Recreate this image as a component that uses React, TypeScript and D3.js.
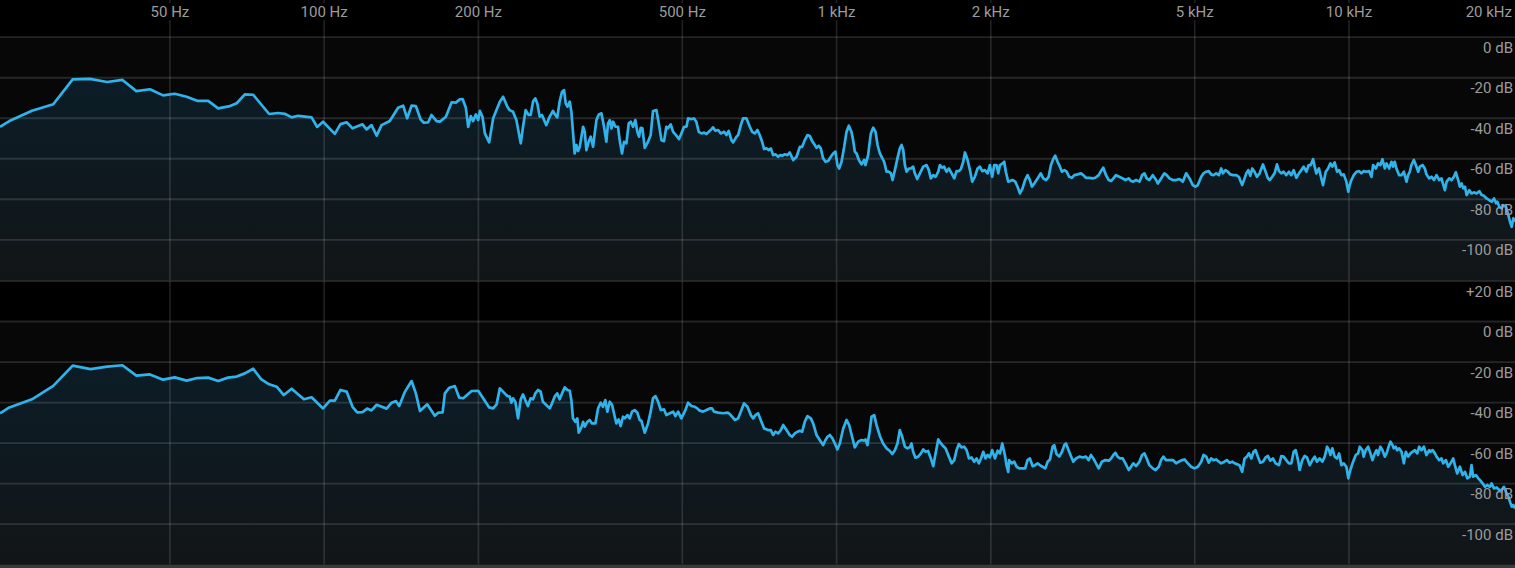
import React from 'react';
import * as d3 from 'd3';

// ---------- axis definitions ----------
const freqGridHz = [50, 100, 200, 500, 1000, 2000, 5000, 10000];
const freqGridLabels = ['50 Hz', '100 Hz', '200 Hz', '500 Hz', '1 kHz', '2 kHz', '5 kHz', '10 kHz'];
const edgeFreqLabel = '20 kHz';
const freqDomainHz = [23.3, 21087];
const dbDomain = [20, -120];
const dbGridLines = [0, -20, -40, -60, -80, -100];
const topPanelDbLabels = ['0 dB', '-20 dB', '-40 dB', '-60 dB', '-80 dB', '-100 dB'];
const bottomPanelDbLabels = ['+20 dB', '0 dB', '-20 dB', '-40 dB', '-60 dB', '-80 dB', '-100 dB'];
const bottomPanelDbTicks = [20, 0, -20, -40, -60, -80, -100];

// ---------- spectrum data: [frequency Hz, level dB] ----------
const topLow: [number, number][] = [
  [23.3,-44.2],[24.3,-41.4],[26.9,-36.3],[29.6,-33.1],[32.3,-20.8],[34.9,-20.6],[37.7,-22.1],[40.4,-21.1],
  [43.0,-26.6],[45.7,-25.7],[48.5,-28.7],[51.1,-27.9],[53.9,-29.4],[56.5,-31.4],[59.4,-31.4],[62.1,-35.1],
  [65.5,-34.0],[67.5,-32.6],[70.0,-28.2],[72.7,-28.4],[78.1,-37.9],[81.3,-37.4],[83.8,-37.8],[86.4,-39.6],
  [89.0,-38.8],[94.5,-39.6],[96.9,-44.3],[99.5,-41.7],[104.9,-47.7],[107.6,-42.9],[110.6,-42.0],[113.6,-45.0],
  [118.8,-43.0],[121.0,-45.5],[123.7,-43.4],[126.6,-48.6],[129.4,-43.4],[134.3,-41.4],[139.4,-34.8],[142.6,-33.8],
  [145.2,-40.0],[148.1,-33.8],[151.0,-34.0],[154.2,-40.5],[156.5,-42.2],[159.6,-42.0],[162.0,-38.4],[165.7,-41.4],
  [168.2,-41.7],[172.8,-39.3],[177.3,-32.1],[180.7,-32.3],[184.0,-30.7],[186.3,-30.5],[189.0,-34.8],[191.0,-44.3],
  [193.3,-38.9],[195.3,-41.4],[197.7,-38.1],[199.8,-40.9],[201.3,-36.4],[203.7,-39.3],[205.9,-47.5],[209.9,-51.9],
  [213.7,-40.0],[220.2,-31.9],[223.5,-29.4],
];
const topMid: [number, number][] = [
  [227.8,-34.3],[230.2,-36.0],[233.6,-36.8],[237.2,-40.9],[241.9,-52.4],[244.4,-44.2],[247.3,-36.0],[250.6,-38.4],
  [252.9,-38.4],[255.6,-31.8],[258.3,-30.2],[260.6,-32.7],[263.4,-39.2],[266.1,-38.4],[271.3,-43.4],[275.5,-39.2],
  [279.6,-36.4],[282.5,-38.4],[285.0,-39.6],[288.1,-31.8],[291.2,-26.9],[293.9,-26.1],[296.1,-32.7],[298.4,-34.3],
  [301.5,-31.8],[303.7,-36.8],[305.9,-46.7],[308.2,-57.4],[310.6,-53.2],[313.0,-56.2],[315.4,-54.1],[320.1,-44.2],
  [322.5,-46.7],[324.9,-55.7],[328.3,-51.6],[331.2,-49.1],[334.8,-54.1],[337.3,-47.5],[339.9,-40.9],[343.5,-38.1],
  [347.6,-37.6],[351.7,-44.2],[355.4,-51.6],[358.1,-42.5],[360.9,-40.9],[363.6,-45.0],[366.3,-41.7],[370.2,-44.2],
  [374.5,-44.2],[377.3,-50.8],[381.3,-57.4],[384.8,-51.6],[388.9,-52.4],[393.0,-42.5],[396.6,-41.7],[400.7,-44.2],
  [404.8,-40.9],[408.5,-46.7],[411.6,-49.1],[414.8,-44.7],[417.9,-45.0],[422.3,-54.6],[428.6,-51.6],[433.7,-48.3],
  [438.3,-36.4],[445.1,-36.0],[449.8,-42.5],[455.2,-50.8],[460.6,-51.3],[465.3,-44.2],[468.9,-45.0],[474.6,-43.0],
  [479.7,-46.7],[486.9,-48.6],[492.7,-50.3],[497.8,-47.5],[503.9,-44.2],[509.3,-44.2],[513.1,-40.1],[520.9,-40.4],
  [527.1,-40.1],[532.5,-41.7],[538.2,-46.7],[544.8,-47.5],[551.5,-47.1],[557.3,-47.8],[563.1,-46.7],[569.7,-45.5],
  [573.9,-44.5],[580.1,-46.2],[587.2,-45.8],[594.4,-47.5],[603.3,-46.7],[609.6,-48.3],[615.8,-46.3],[623.5,-50.8],
  [628.2,-51.9],[637.8,-49.1],[642.6,-48.3],[650.2,-43.4],[656.9,-40.1],[667.0,-40.1],[677.2,-44.2],[684.4,-46.7],
  [692.6,-47.5],[700.7,-45.8],[707.9,-48.3],[715.6,-51.6],[722.2,-55.2],[729.9,-54.9],[737.6,-55.7],[744.2,-54.9],
  [751.9,-58.2],[759.7,-57.8],[769.1,-59.0],[776.1,-58.2],[783.2,-58.5],[792.6,-57.8],[802.0,-58.2],[810.3,-56.9],
  [822.7,-60.6],[835.3,-59.0],[847.9,-54.1],[856.7,-54.1],[866.8,-50.8],[877.3,-48.3],[886.8,-48.8],[896.2,-51.3],
  [907.0,-53.2],[913.8,-54.6],[923.2,-53.6],[931.3,-54.9],[941.3,-59.8],[951.5,-61.5],[963.1,-61.1],[974.6,-59.0],
  [984.8,-57.4],[994.9,-56.5],[1003.9,-63.1],[1011.6,-64.8],[1022.5,-61.5],[1034.9,-54.1],[1045.8,-46.7],[1056.6,-43.7],
  [1069.1,-46.7],[1077.2,-50.8],[1085.5,-56.5],[1093.8,-57.4],[1105.4,-60.6],[1118.7,-62.8],[1132.0,-60.6],[1138.7,-63.1],
  [1152.3,-58.2],[1166.5,-47.5],[1179.0,-44.7],[1191.5,-46.7],[1202.2,-53.2],[1214.7,-57.4],[1227.1,-59.5],[1238.3,-61.5],
  [1251.7,-66.4],[1265.1,-66.4],[1276.5,-67.2],[1286.1,-70.5],[1299.5,-65.6],[1314.7,-59.8],[1328.7,-54.9],[1339.0,-53.2],
  [1349.2,-55.7],[1359.4,-63.1],[1369.7,-66.4],[1384.0,-64.8],[1396.3,-64.8],[1410.6,-63.9],[1421.3,-67.2],[1436.7,-70.0],
  [1454.3,-67.2],[1476.2,-63.9],[1498.2,-63.1],[1513.5,-65.6],[1527.5,-69.7],[1543.9,-68.1],[1560.4,-68.9],[1579.2,-66.4],
  [1591.0,-63.1],[1607.4,-64.4],[1621.5,-63.9],[1639.0,-66.4],[1656.6,-64.8],[1676.8,-67.2],[1697.0,-69.7],[1714.6,-66.1],
  [1732.3,-66.1],[1747.9,-65.1],[1766.8,-61.5],[1780.3,-56.9],[1801.9,-60.6],[1820.9,-65.6],[1839.8,-71.3],[1861.4,-68.9],
  [1884.2,-64.8],[1904.4,-63.9],[1924.7,-66.1],[1947.9,-65.6],[1971.0,-67.2],[1991.3,-63.1],[2012.4,-68.9],[2031.0,-63.1],
  [2052.7,-63.1],[2068.2,-67.2],[2083.8,-63.1],[2108.6,-62.3],[2124.1,-61.5],[2139.6,-66.4],[2162.6,-71.3],
];
const topHigh: [number, number][] = [
  [2204.8,-70.5],[2231.8,-71.3],[2255.5,-73.8],[2279.2,-77.1],[2306.2,-74.6],[2333.3,-70.5],[2358.7,-68.1],[2384.0,-70.5],
  [2405.8,-73.8],[2431.1,-72.2],[2467.4,-69.7],[2503.9,-67.2],[2531.1,-69.7],[2562.2,-70.5],[2593.3,-68.9],[2620.5,-63.1],
  [2651.6,-59.8],[2671.0,-58.5],[2699.5,-61.5],[2728.6,-63.9],[2753.6,-66.4],[2782.7,-65.6],[2811.9,-66.4],[2845.2,-68.9],
  [2878.9,-69.4],[2910.1,-68.1],[2954.7,-67.7],[2999.3,-67.2],[3030.5,-68.1],[3066.1,-69.4],[3113.1,-69.4],[3161.0,-69.7],
  [3199.3,-69.4],[3247.1,-68.1],[3280.6,-66.1],[3315.2,-64.4],[3356.2,-68.1],[3397.2,-70.5],[3433.0,-71.0],[3468.9,-69.7],
  [3509.9,-68.1],[3563.0,-68.9],[3617.9,-69.7],[3661.9,-70.5],[3716.8,-69.7],[3755.3,-71.0],[3794.0,-71.3],[3841.1,-70.5],
  [3899.9,-71.3],[3947.0,-68.1],[3988.2,-67.2],[4029.4,-69.7],[4077.6,-70.5],[4140.7,-68.1],[4203.9,-70.5],[4235.4,-72.2],
  [4298.5,-69.7],[4362.3,-67.2],[4409.6,-68.1],[4463.7,-69.7],[4531.3,-70.5],[4598.9,-70.5],[4666.6,-70.0],[4739.1,-71.3],
  [4811.5,-67.2],[4884.0,-69.7],[4956.5,-73.0],[5015.5,-73.8],[5069.9,-73.0],[5147.6,-68.9],[5202.0,-67.2],[5264.1,-66.4],
  [5326.2,-66.1],[5382.2,-67.7],[5440.5,-68.1],[5507.1,-67.2],[5573.7,-68.1],[5632.0,-64.8],[5673.6,-67.2],[5740.2,-65.6],
  [5802.4,-66.4],[5864.8,-67.7],[5936.2,-68.1],[6025.4,-68.1],[6096.7,-68.9],[6188.1,-73.0],[6255.1,-69.7],[6302.9,-67.2],
  [6360.3,-65.6],[6417.7,-68.4],[6475.1,-64.8],[6542.0,-66.4],[6609.8,-68.9],[6691.8,-67.2],[6794.3,-62.8],[6876.3,-66.4],
  [6948.1,-69.7],[6999.3,-70.5],[7082.1,-68.9],[7159.0,-67.2],[7235.9,-62.8],[7301.8,-66.1],[7378.7,-67.2],[7455.6,-66.4],
  [7543.5,-68.1],[7635.1,-66.4],[7717.5,-68.1],[7799.9,-65.6],[7894.1,-69.4],[7988.3,-67.2],[8070.7,-65.6],[8155.3,-63.9],
  [8256.3,-66.4],[8344.6,-63.1],[8420.3,-63.1],[8508.6,-60.2],[8571.7,-63.9],[8634.8,-67.2],[8738.0,-64.8],[8832.7,-69.7],
  [8900.4,-73.0],[9008.6,-66.4],[9103.4,-64.8],[9198.1,-62.3],[9279.3,-63.9],[9377.0,-61.8],[9478.4,-66.4],[9565.3,-65.6],
  [9666.8,-68.1],[9768.2,-67.7],[9884.1,-71.3],[9971.0,-76.3],[10031,-73.0],[10109,-70.5],[10218,-68.1],[10342,-66.4],
  [10466,-66.1],[10575,-67.2],[10684,-66.1],[10815,-66.4],[10948,-66.1],[11064,-68.9],[11147,-63.1],[11281,-64.8],
  [11397,-62.3],[11516,-63.1],[11623,-60.2],[11747,-64.8],[11837,-62.3],[11979,-64.8],[12104,-61.5],[12193,-63.9],
  [12283,-61.5],[12376,-64.8],[12529,-68.1],[12663,-68.1],[12797,-66.4],[12950,-71.3],[13046,-68.1],[13141,-66.4],
  [13240,-63.1],[13384,-60.6],[13507,-63.1],[13650,-66.4],[13753,-63.9],[13917,-63.1],[14060,-64.8],[14164,-67.7],
  [14340,-69.7],[14494,-68.9],[14647,-70.5],[14823,-68.1],[14999,-70.5],[15153,-69.7],[15388,-75.5],[15506,-71.3],
  [15694,-69.7],[15859,-70.5],[16024,-68.9],[16165,-66.7],[16336,-70.5],[16462,-73.8],[16588,-72.2],[16714,-74.6],
  [16841,-73.8],[16967,-77.9],[17169,-75.5],[17345,-77.1],[17530,-76.6],[17747,-77.1],[17963,-76.0],[18152,-77.9],
  [18342,-78.3],[18558,-79.6],[18783,-80.4],[18986,-81.2],[19189,-79.6],[19362,-82.0],[19478,-81.2],[19652,-83.7],
  [19855,-84.5],[20000,-82.9],[20249,-83.7],[20466,-87.8],[20621,-91.1],[20777,-93.6],[20932,-89.4],[21087,-91.1],
];

const bottomLow: [number, number][] = [
  [23.3,-45.3],[24.3,-42.4],[26.9,-38.4],[29.6,-31.8],[32.3,-21.8],[35.0,-23.5],[37.7,-22.3],[40.4,-21.6],
  [43.0,-26.7],[45.7,-26.1],[48.5,-28.7],[51.1,-27.6],[53.9,-29.2],[56.5,-27.9],[59.4,-27.7],[62.1,-29.4],
  [64.9,-27.7],[67.5,-27.2],[70.0,-25.6],[72.7,-23.3],[75.4,-28.6],[78.1,-31.0],[80.8,-32.2],[83.4,-36.3],
  [86.4,-33.2],[91.3,-38.4],[94.5,-37.4],[99.5,-42.9],[102.6,-39.1],[104.9,-39.1],[107.6,-33.8],[110.6,-34.6],
  [113.6,-42.1],[116.0,-44.9],[118.8,-44.7],[121.3,-43.0],[123.7,-43.9],[126.6,-41.1],[132.4,-43.0],[135.4,-40.1],
  [138.1,-39.3],[140.1,-41.7],[143.8,-34.6],[148.1,-29.4],[151.0,-35.5],[153.8,-44.2],[158.9,-40.9],[164.4,-46.5],
  [166.9,-45.0],[170.3,-44.9],[172.0,-35.5],[175.4,-32.7],[179.9,-31.9],[183.5,-37.6],[186.8,-37.9],[194.0,-34.3],
  [199.8,-34.2],[204.3,-37.9],[209.9,-42.4],[213.7,-42.9],[217.0,-40.9],[220.2,-33.0],
];
const bottomMid: [number, number][] = [
  [225.1,-35.5],[227.8,-36.8],[230.2,-37.1],[231.9,-40.1],[233.6,-37.9],[236.1,-39.6],[239.0,-47.8],[241.9,-38.4],
  [244.4,-36.0],[246.9,-38.8],[249.8,-41.7],[252.9,-37.9],[255.6,-38.4],[258.3,-35.5],[261.4,-33.8],[264.5,-34.6],
  [267.2,-39.6],[271.3,-41.2],[275.5,-42.9],[278.4,-40.4],[281.7,-37.1],[285.0,-35.5],[288.1,-38.4],[291.2,-35.5],
  [294.8,-32.5],[298.4,-33.8],[301.5,-34.2],[303.7,-38.8],[305.9,-47.8],[309.1,-49.5],[311.9,-47.8],[313.9,-54.9],
  [317.7,-52.3],[320.1,-49.5],[322.5,-51.9],[326.3,-49.5],[329.7,-48.6],[333.2,-50.3],[338.3,-50.3],[342.4,-42.9],
  [346.5,-40.1],[350.1,-42.1],[353.7,-38.8],[357.0,-44.5],[360.9,-39.6],[364.7,-41.2],[369.1,-47.0],[371.8,-50.3],
  [375.7,-48.3],[378.9,-51.6],[383.0,-47.0],[386.0,-47.8],[390.7,-46.2],[394.8,-47.8],[398.9,-44.5],[403.6,-43.7],
  [408.5,-45.0],[412.9,-48.6],[416.0,-49.0],[422.3,-54.9],[428.6,-50.3],[433.7,-44.5],[438.3,-37.9],[443.1,-36.8],
  [448.5,-39.6],[453.9,-43.7],[460.6,-43.4],[465.3,-46.2],[472.5,-45.3],[479.7,-44.5],[484.8,-46.7],[490.6,-44.5],
  [497.8,-47.8],[505.4,-44.5],[513.1,-40.1],[520.9,-41.7],[528.7,-42.1],[534.9,-42.9],[540.7,-44.0],[549.0,-44.5],
  [557.3,-43.7],[565.6,-42.9],[571.4,-42.9],[576.5,-44.5],[587.2,-45.0],[600.6,-45.3],[614.0,-45.0],[621.6,-46.2],
  [633.0,-48.6],[642.6,-47.8],[652.2,-43.7],[659.8,-40.4],[670.0,-42.1],[680.3,-46.2],[687.4,-47.8],[694.6,-46.2],
  [702.8,-45.3],[713.4,-49.5],[722.2,-52.8],[735.4,-53.6],[744.2,-53.6],[751.9,-56.0],[759.7,-54.4],[769.1,-55.2],
  [778.5,-53.6],[786.7,-51.1],[798.5,-53.6],[810.3,-56.0],[818.9,-56.9],[829.0,-55.2],[839.1,-54.4],[847.9,-53.9],
  [856.7,-54.4],[866.8,-49.5],[877.3,-46.7],[890.8,-47.8],[900.2,-50.3],[913.8,-56.0],[927.2,-58.5],[941.3,-61.0],
  [951.5,-58.5],[960.2,-56.9],[970.2,-56.0],[981.8,-57.7],[992.0,-60.2],[1003.9,-63.1],[1014.7,-60.2],[1030.3,-52.8],
  [1045.8,-48.6],[1058.2,-51.1],[1072.2,-56.9],[1085.5,-62.1],[1102.1,-59.3],[1118.7,-58.5],[1132.0,-58.8],[1138.7,-58.2],
  [1148.7,-61.0],[1161.2,-53.6],[1170.1,-47.0],[1184.4,-46.2],[1196.8,-51.1],[1214.7,-56.5],[1232.5,-60.2],[1251.7,-62.6],
  [1270.8,-63.9],[1284.2,-65.4],[1299.5,-63.5],[1314.7,-60.2],[1328.7,-53.6],[1343.0,-56.9],[1359.4,-61.8],[1375.8,-62.6],
  [1390.1,-62.1],[1400.4,-60.2],[1410.6,-64.3],[1425.7,-67.2],[1443.3,-66.7],[1460.9,-65.1],[1476.2,-63.1],[1491.6,-64.3],
  [1509.2,-63.9],[1527.5,-67.6],[1543.9,-71.4],[1560.4,-65.1],[1579.2,-58.2],[1598.0,-60.2],[1614.5,-61.5],[1631.4,-62.6],
  [1656.6,-66.7],[1676.8,-70.0],[1697.0,-68.4],[1714.6,-63.5],[1732.3,-60.5],[1753.3,-62.1],[1774.9,-61.8],[1793.8,-63.5],
  [1812.8,-67.6],[1834.4,-67.1],[1856.0,-69.2],[1875.5,-67.6],[1895.8,-70.0],[1913.2,-67.6],[1933.4,-64.3],[1953.7,-67.6],
  [1971.0,-65.9],[1991.3,-67.1],[2012.4,-63.5],[2037.2,-67.6],[2062.0,-63.8],[2083.8,-65.1],[2105.5,-60.2],[2130.3,-65.9],
  [2146.0,-70.9],[2162.6,-74.2],
];
const bottomHigh: [number, number][] = [
  [2171.4,-68.4],[2198.0,-70.0],[2221.7,-69.2],[2245.4,-71.7],[2272.4,-72.5],[2306.2,-72.5],[2333.3,-72.5],[2358.7,-68.4],
  [2384.0,-67.6],[2413.0,-71.4],[2441.9,-70.9],[2467.4,-70.0],[2492.8,-70.9],[2523.3,-71.7],[2554.4,-72.5],[2581.6,-69.2],
  [2608.8,-68.1],[2639.9,-61.8],[2659.3,-61.0],[2687.0,-65.4],[2720.3,-66.7],[2753.6,-64.3],[2782.7,-61.0],[2803.5,-60.2],
  [2836.8,-63.5],[2866.0,-66.4],[2897.6,-69.2],[2933.3,-67.6],[2977.9,-66.7],[3022.5,-67.1],[3066.1,-66.7],[3103.5,-68.4],
  [3137.0,-65.9],[3170.5,-67.6],[3208.8,-70.0],[3247.1,-72.5],[3295.0,-69.2],[3345.9,-68.4],[3397.2,-68.7],[3433.0,-67.6],
  [3468.9,-65.9],[3499.6,-64.8],[3535.5,-66.7],[3574.0,-67.6],[3617.9,-67.6],[3661.9,-70.0],[3716.8,-73.3],[3755.3,-71.7],
  [3794.0,-70.0],[3841.1,-71.4],[3899.9,-69.2],[3947.0,-65.9],[3988.2,-65.1],[4029.4,-67.6],[4077.6,-70.9],[4140.7,-72.5],
  [4191.2,-73.3],[4254.3,-71.7],[4298.5,-68.4],[4342.7,-66.7],[4396.1,-68.4],[4463.7,-68.4],[4531.3,-68.4],[4598.9,-70.0],
  [4653.0,-69.2],[4724.6,-68.4],[4775.3,-68.1],[4847.8,-70.0],[4920.2,-71.7],[4992.7,-72.5],[5069.9,-71.7],[5147.6,-69.2],
  [5202.0,-65.9],[5264.1,-66.7],[5326.2,-69.7],[5382.2,-67.6],[5440.5,-68.4],[5507.1,-68.1],[5573.7,-69.2],[5632.0,-70.0],
  [5715.2,-69.2],[5775.6,-68.4],[5847.0,-69.7],[5918.3,-69.2],[5980.8,-70.0],[6043.2,-70.4],[6114.6,-70.9],[6188.1,-74.2],
  [6255.1,-67.6],[6322.1,-66.7],[6379.5,-65.1],[6446.4,-67.6],[6513.4,-64.3],[6570.8,-63.5],[6640.6,-66.7],[6712.3,-69.7],
  [6794.3,-69.2],[6876.3,-67.1],[6948.1,-66.4],[7019.8,-68.7],[7104.1,-67.6],[7192.0,-70.0],[7301.8,-70.9],[7378.7,-66.4],
  [7455.6,-66.7],[7543.5,-68.4],[7635.1,-70.0],[7717.5,-70.0],[7799.9,-64.3],[7870.5,-63.5],[7952.9,-68.4],[8011.8,-73.3],
  [8106.0,-68.4],[8193.2,-66.4],[8281.6,-67.1],[8382.5,-70.9],[8483.4,-68.4],[8571.7,-66.7],[8660.1,-69.2],[8765.0,-67.6],
  [8873.3,-69.2],[8968.0,-66.7],[9062.7,-61.8],[9143.9,-63.5],[9198.1,-65.9],[9279.3,-62.6],[9377.0,-66.7],[9478.4,-67.6],
  [9565.3,-65.1],[9666.8,-70.9],[9768.2,-70.0],[9884.1,-71.7],[9971.0,-77.4],[10062,-73.3],[10187,-69.2],[10311,-65.9],
  [10420,-65.1],[10497,-61.8],[10622,-63.5],[10684,-66.7],[10781,-63.5],[10898,-61.8],[11014,-65.1],[11114,-68.4],
  [11231,-65.1],[11314,-63.5],[11397,-65.9],[11516,-61.8],[11623,-63.5],[11747,-66.7],[11837,-65.1],[11979,-61.0],
  [12051,-59.3],[12158,-61.0],[12229,-62.6],[12338,-61.8],[12414,-63.5],[12529,-62.6],[12663,-64.3],[12797,-70.0],
  [12912,-64.3],[13046,-66.7],[13180,-65.1],[13302,-64.3],[13445,-63.5],[13589,-65.1],[13712,-61.8],[13855,-63.5],
  [13999,-61.8],[14164,-65.9],[14340,-63.5],[14428,-64.3],[14559,-63.5],[14713,-65.1],[14823,-66.7],[14999,-68.4],
  [15153,-67.6],[15270,-70.0],[15458,-68.4],[15623,-71.7],[15788,-70.0],[15977,-67.6],[16094,-70.9],[16260,-75.0],
  [16462,-71.7],[16664,-75.8],[16841,-74.2],[17017,-77.4],[17219,-76.6],[17345,-70.9],[17476,-76.6],[17692,-75.8],
  [17882,-77.4],[18017,-78.3],[18234,-79.9],[18423,-81.6],[18612,-80.7],[18835,-81.6],[18980,-79.9],[19183,-82.4],
  [19415,-81.9],[19652,-83.2],[19855,-83.2],[20062,-81.6],[20311,-84.9],[20466,-86.5],[20621,-89.0],[20777,-91.4],
  [20932,-90.6],[21087,-92.3],
];

const channels = [
  { key: 'top', data: [...topLow, ...topMid, ...topHigh], dbTicks: dbGridLines, dbLabels: topPanelDbLabels },
  { key: 'bottom', data: [...bottomLow, ...bottomMid, ...bottomHigh], dbTicks: bottomPanelDbTicks, dbLabels: bottomPanelDbLabels },
];

const W = 1515;
const H = 568;
const PANEL_H = 283.6;
const PANEL_TOPS = [-3.3, 281.0];

const LINE_COLOR = '#2fb3ea';
const GRID_COLOR = 'rgba(255,255,255,0.13)';
const LABEL_COLOR = '#9c9c9c';
const FONT = 'Roboto, "Noto Sans", Arial, sans-serif';
const FONT_SIZE = 15;

export default function App() {
  const x = d3.scaleLog().domain(freqDomainHz).range([0, W]);

  return (
    <div style={{ position: 'fixed', left: 0, top: 0, width: W, height: H, background: '#000', overflow: 'hidden' }}>
      <svg width={W} height={H} style={{ display: 'block' }}>
        <defs>
          {channels.map((c, i) => {
            const y = d3.scaleLinear().domain(dbDomain).range([PANEL_TOPS[i], PANEL_TOPS[i] + PANEL_H]);
            return (
              <linearGradient key={c.key} id={`fill-${c.key}`} gradientUnits="userSpaceOnUse" x1={0} x2={0} y1={y(-20)} y2={y(-120)}>
                <stop offset="0%" stopColor="#0b1d27" />
                <stop offset="100%" stopColor="#121517" />
              </linearGradient>
            );
          })}
        </defs>

        {channels.map((c, i) => {
          const y = d3.scaleLinear().domain(dbDomain).range([PANEL_TOPS[i], PANEL_TOPS[i] + PANEL_H]);
          const area = d3.area<[number, number]>()
            .x(d => x(d[0]))
            .y0(y(-120))
            .y1(d => y(d[1]));
          const line = d3.line<[number, number]>()
            .x(d => x(d[0]))
            .y(d => y(d[1]));
          return (
            <g key={c.key}>
              <rect x={0} y={y(0)} width={W} height={y(-120) - y(0)} fill="#070707" />
              <path d={area(c.data) || ''} fill={`url(#fill-${c.key})`} />
              {[20, ...dbGridLines].map(db => (
                <line key={db} x1={0} x2={W} y1={y(db)} y2={y(db)} stroke={GRID_COLOR} strokeWidth={1.8} />
              ))}
              {freqGridHz.map(f => (
                <line key={f} x1={x(f)} x2={x(f)} y1={i === 0 ? 20 : y(20)} y2={y(-120)} stroke={GRID_COLOR} strokeWidth={1.6} />
              ))}
              <path d={line(c.data) || ''} fill="none" stroke={LINE_COLOR} strokeWidth={2.7} strokeLinejoin="round" />
              {c.dbTicks.map((db, k) => (
                <text key={db} x={W - 2} y={y(db) + 15.5} textAnchor="end" fill={LABEL_COLOR} fontFamily={FONT} fontSize={FONT_SIZE}>
                  {c.dbLabels[k]}
                </text>
              ))}
            </g>
          );
        })}

        {freqGridHz.map((f, k) => (
          <g key={f}>
            <line x1={x(f)} x2={x(f)} y1={0} y2={3} stroke={GRID_COLOR} strokeWidth={1.6} />
            <text x={x(f)} y={16.5} textAnchor="middle" fill={LABEL_COLOR} fontFamily={FONT} fontSize={FONT_SIZE}>
              {freqGridLabels[k]}
            </text>
          </g>
        ))}
        <text x={W - 3} y={16.5} textAnchor="end" fill={LABEL_COLOR} fontFamily={FONT} fontSize={FONT_SIZE}>
          {edgeFreqLabel}
        </text>

        <rect x={0} y={564.6} width={W} height={H - 564.6} fill="#3a3a3a" />
      </svg>
    </div>
  );
}
